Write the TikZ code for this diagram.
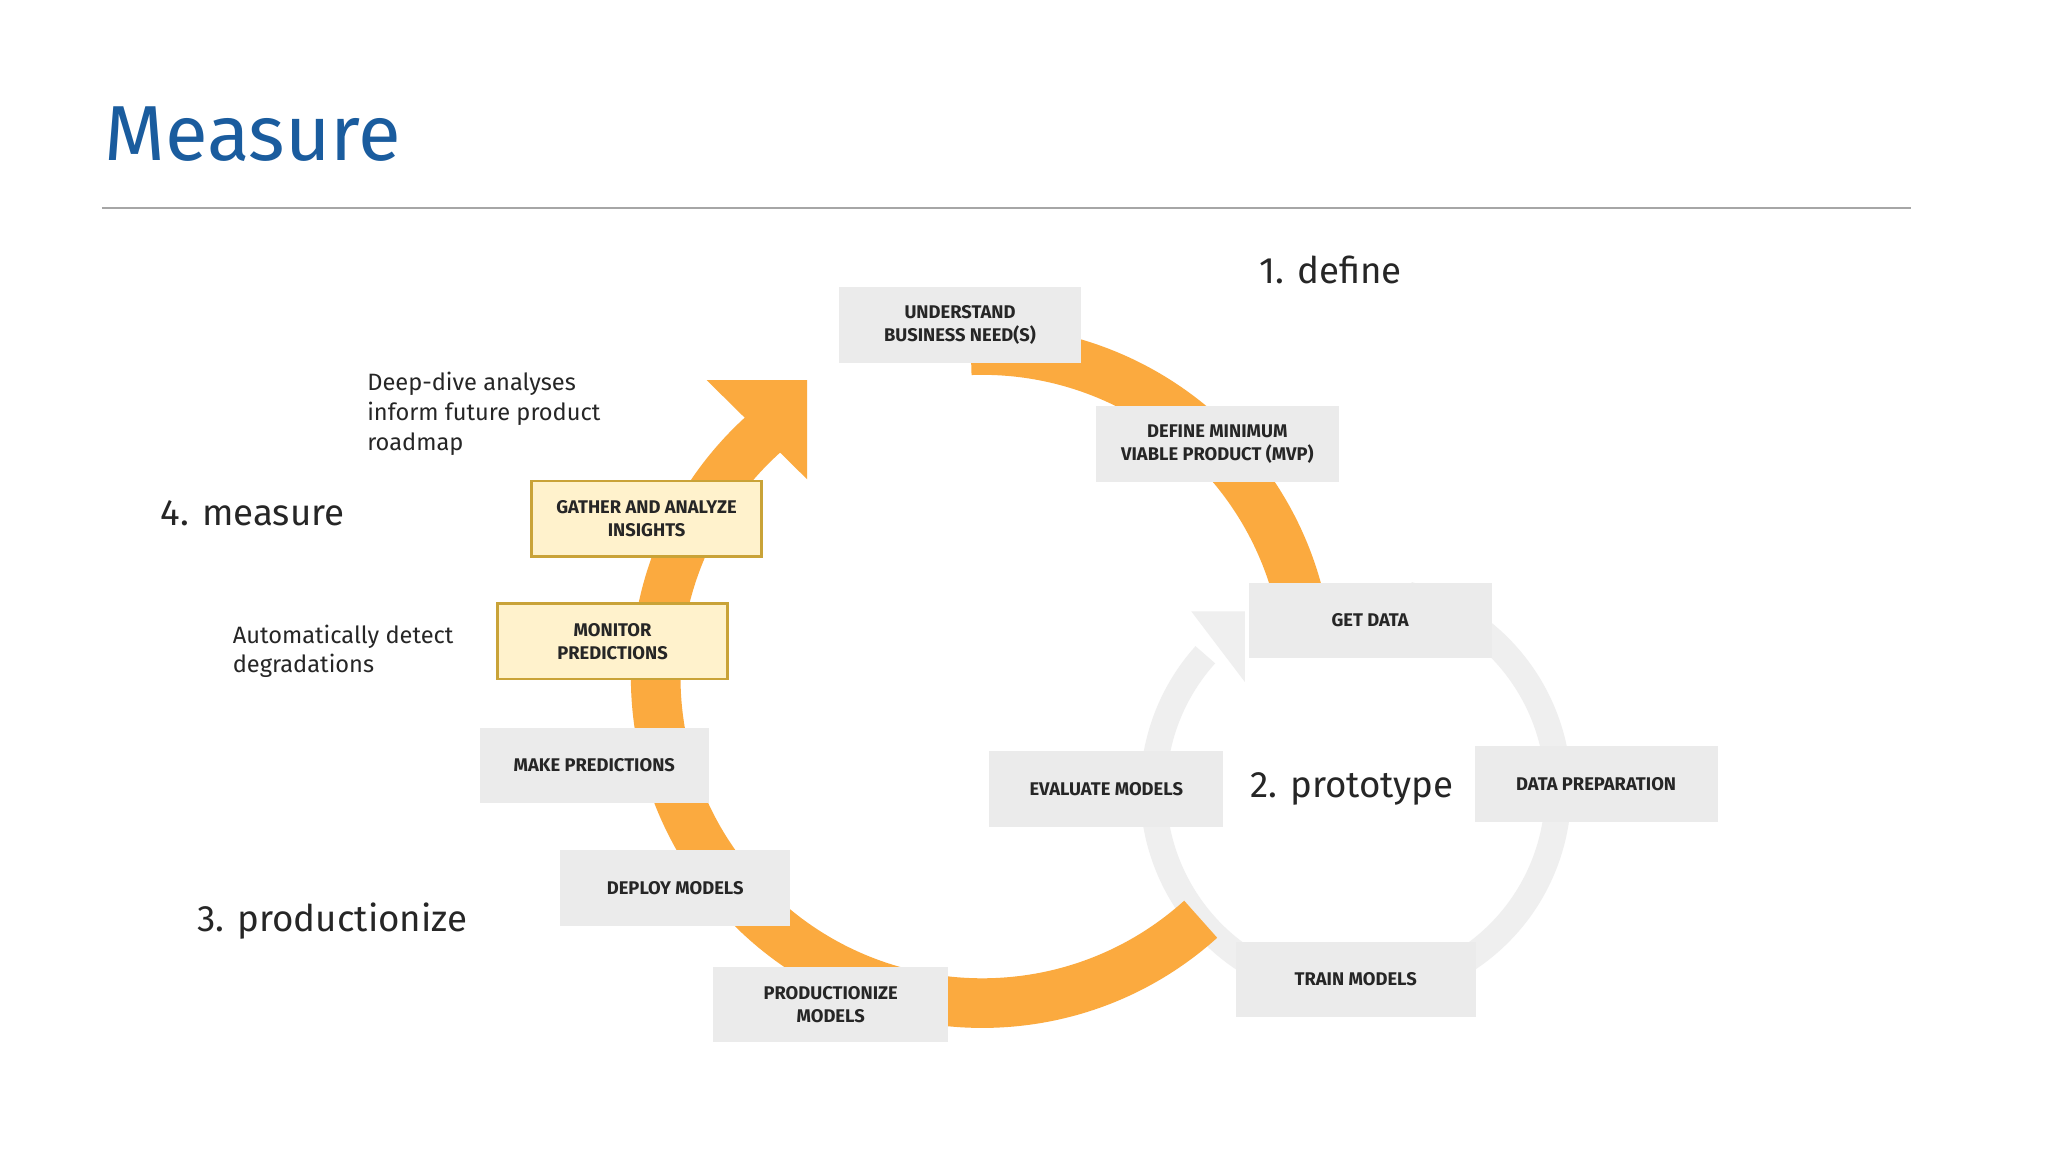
\documentclass[tikz,border=0pt]{standalone}
\usepackage{fontspec}
\setmainfont{Fira Sans}
\begin{document}
\begin{tikzpicture}[x=0.02cm,y=-0.02cm,
  box/.style={fill=boxgrey,minimum width=#1*0.02cm,minimum height=58*0.02cm,align=center,font=\fontsize{8}{10}\selectfont\bfseries,text=black!85,inner sep=0pt},
  ybox/.style={box=#1,fill=ylw,draw=ybd,line width=1pt},
  big/.style={font=\fontsize{16}{20}\selectfont,anchor=west,text=black!85},
  small/.style={font=\fontsize{10.3}{13}\selectfont,anchor=north west,align=left,text=black!85}]
\definecolor{boxgrey}{HTML}{EBEBEB}
\definecolor{ylw}{HTML}{FFF2CC}
\definecolor{ybd}{HTML}{C9A338}
\definecolor{orng}{HTML}{FBAA3F}
\definecolor{ttl}{HTML}{1A5C9E}
\definecolor{ring}{HTML}{EFEFEF}
\useasboundingbox[fill=white] (0,0) rectangle (1568,882);
\node[anchor=west,text=ttl,font=\fontsize{34}{40}\selectfont] (title) at (74,103) {Measure};
\coordinate (l1) at (78,159); \coordinate (l2) at (1463,159);
\draw[gray!70,line width=0.8pt] (l1) -- (l2);
% grey ring
\draw[ring,line width=20*0.02cm] (1038,605) ++(-75:155) arc[start angle=-75,end angle=222,radius=155];
\fill[ring] (912,468) -- (953,468) -- (953,522) -- cycle;
% orange ring
\draw[orng,line width=38*0.02cm] (752,518) ++(-92:250) arc[start angle=-92,end angle=-15,radius=250];
\draw[orng,line width=38*0.02cm] (752,518) ++(48:250) arc[start angle=48,end angle=228,radius=250];
\fill[orng] (541,291) -- (618,291) -- (618,367) -- cycle;
% boxes
\node[box=186] (b1) at (735,249) {UNDERSTAND\\BUSINESS NEED(S)};
\node[box=186] (b2) at (932,340) {DEFINE MINIMUM\\VIABLE PRODUCT (MVP)};
\node[box=186] (b3) at (1049,475) {GET DATA};
\node[box=186] (b4) at (1222,600) {DATA PREPARATION};
\node[box=184] (b5) at (1038,750) {TRAIN MODELS};
\node[box=179] (b6) at (847,604) {EVALUATE MODELS};
\node[box=180] (b7) at (636,769) {PRODUCTIONIZE\\MODELS};
\node[box=176] (b8) at (517,680) {DEPLOY MODELS};
\node[box=175] (b9) at (455,586) {MAKE PREDICTIONS};
\node[ybox=176] (b10) at (469,491) {MONITOR\\PREDICTIONS};
\node[ybox=176] (b11) at (495,397) {GATHER AND ANALYZE\\INSIGHTS};
% labels
\node[big] (d1) at (958,207) {1. define};
\node[big] (d2) at (951,604) {2. prototype};
\node[big] (d3) at (145,705) {3. productionize};
\node[big] (d4) at (117,393) {4. measure};
\node[small] (s1) at (275,279) {Deep-dive analyses\\inform future product\\roadmap};
\node[small] (s2) at (172,472) {Automatically detect\\degradations};
\end{tikzpicture}
\end{document}
